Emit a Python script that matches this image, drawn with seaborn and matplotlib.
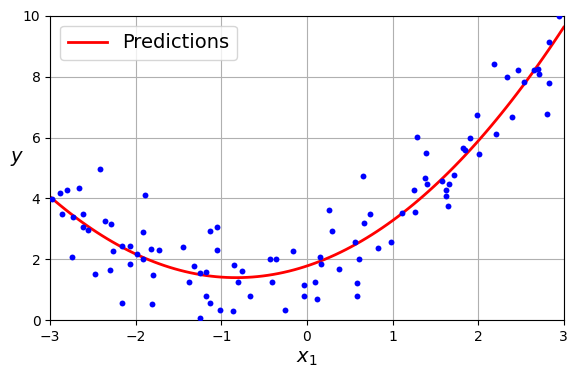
import numpy as np
import pandas as pd
import matplotlib
matplotlib.use("Agg")
import matplotlib.pyplot as plt
import seaborn as sns

# -----------------------------
# Data
# -----------------------------
x_left = [-2.98, -2.88, -2.80, -2.66, -2.42, -1.89, -2.86, -2.73, -2.62, -2.62,
          -2.56, -2.36, -2.29, -2.27, -2.16, -2.07, -1.98, -1.92, -1.91, -1.82,
          -1.73, -2.74, -2.48, -2.30, -2.07, -1.80, -2.16, -1.81]
y_left = [3.98, 4.17, 4.27, 4.34, 4.96, 4.11, 3.48, 3.38, 3.48, 3.05,
          2.95, 3.26, 3.15, 2.26, 2.43, 2.43, 2.16, 2.01, 2.89, 2.33,
          2.31, 2.07, 1.51, 1.65, 1.83, 1.47, 0.55, 0.52]

x_mid = [-1.45, -1.32, -1.38, -1.25, -1.18, -1.13, -1.05, -1.05, -1.18, -1.13,
         -1.25, -1.02, -0.86, -0.85, -0.76, -0.80, -0.66, -0.43, -0.36, -0.41,
         -0.16, -0.26, -0.03, -0.03]
y_mid = [2.40, 1.77, 1.24, 1.54, 1.57, 2.92, 3.05, 2.30, 0.81, 0.55,
         0.06, 0.32, 0.29, 1.80, 1.60, 1.27, 0.78, 2.00, 2.00, 1.27,
         2.26, 0.35, 1.14, 0.81]

x_right = [0.09, 0.12, 0.15, 0.16, 0.26, 0.29, 0.37, 0.56, 0.59, 0.59,
           0.61, 0.65, 0.67, 0.74, 0.83, 0.98, 1.11, 1.26, 1.25, 1.28,
           1.39, 1.38, 1.40]
y_right = [1.27, 0.71, 2.07, 1.84, 3.61, 2.92, 1.67, 2.56, 1.21, 0.78,
           2.00, 4.73, 3.19, 3.48, 2.36, 2.56, 3.52, 3.55, 4.27, 6.02,
           5.49, 4.67, 4.47]

x_far = [1.58, 1.66, 1.63, 1.63, 1.65, 1.72, 1.82, 1.85, 1.90, 1.99,
         2.01, 2.21, 2.19, 2.34, 2.39, 2.47, 2.54, 2.65, 2.70, 2.71,
         2.81, 2.83, 2.83, 2.94]
y_far = [4.57, 4.47, 4.27, 4.08, 3.75, 4.77, 5.66, 5.58, 5.99, 6.73,
         5.46, 6.12, 8.43, 8.00, 6.68, 8.23, 7.83, 8.23, 8.26, 8.10,
         6.78, 7.80, 9.15, 9.99]

x_ticks = [-3, -2, -1, 0, 1, 2, 3]
y_ticks = [0, 2, 4, 6, 8, 10]

# -----------------------------
# Build table + fit the quadratic model shown as "Predictions"
# -----------------------------
df = pd.DataFrame({
    "x": x_left + x_mid + x_right + x_far,
    "y": y_left + y_mid + y_right + y_far,
})

coefs = np.polyfit(df["x"], df["y"], 2)
x_new = np.linspace(-3, 3, 100)
pred = pd.DataFrame({"x": x_new, "y": np.polyval(coefs, x_new)})

# -----------------------------
# Plot
# -----------------------------
fig, ax = plt.subplots(figsize=(5.77, 3.78), dpi=100)

sns.lineplot(data=pred, x="x", y="y", color="red", linewidth=2,
             label="Predictions", ax=ax)
sns.scatterplot(data=df, x="x", y="y", color="blue", s=18, linewidth=0,
                zorder=3, ax=ax)

ax.set_xlim(-3, 3)
ax.set_ylim(0, 10)
ax.set_xticks(x_ticks)
ax.set_yticks(y_ticks)
ax.grid(True)
ax.set_xlabel("$x_1$", fontsize=14)
ax.set_ylabel("$y$", rotation=0, fontsize=14)
ax.legend(loc="upper left", fontsize=14)

fig.subplots_adjust(left=0.087, right=0.977, top=0.958, bottom=0.153)
plt.savefig("out.png", dpi=100)
plt.close()
